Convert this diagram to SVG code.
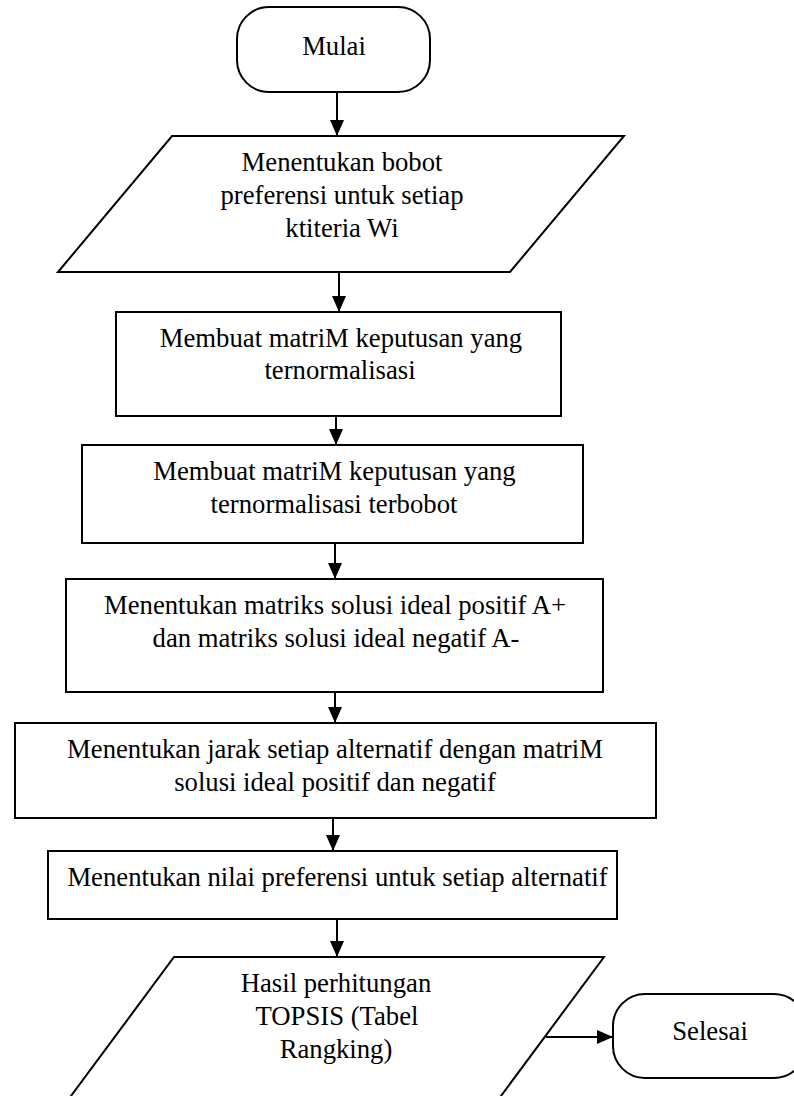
<svg xmlns="http://www.w3.org/2000/svg" width="794" height="1096" viewBox="0 0 794 1096">
<style>
.shape{fill:#fff;stroke:#000;stroke-width:2}
.t{font-family:"Liberation Serif","Times New Roman",serif;font-size:26.7px;fill:#000;text-anchor:middle}
.c{stroke:#000;stroke-width:2;fill:none;marker-end:url(#ah)}
</style>
<defs>
<marker id="ah" markerUnits="userSpaceOnUse" markerWidth="16" markerHeight="14" refX="16" refY="7" orient="auto">
<path d="M0,0 L16,7 L0,14 Z" fill="#000"/>
</marker>
</defs>
<rect width="794" height="1096" fill="#fff"/>
<g id="connectors">
<line class="c" x1="337" y1="92" x2="337" y2="136"/>
<line class="c" x1="339" y1="272" x2="339" y2="312"/>
<line class="c" x1="336" y1="416" x2="336" y2="445"/>
<line class="c" x1="335" y1="543" x2="335" y2="579"/>
<line class="c" x1="335" y1="692" x2="335" y2="723"/>
<line class="c" x1="333" y1="818" x2="333" y2="851"/>
<line class="c" x1="337" y1="919" x2="337" y2="957"/>
<line class="c" x1="546" y1="1037" x2="613" y2="1037"/>
</g>
<g id="mulai">
<rect class="shape" x="237" y="7" width="193" height="85" rx="32" ry="32"/>
<text class="t" x="334" y="55">Mulai</text>
</g>
<g id="bobot">
<polygon class="shape" points="172,136 624,136 510,272 58,272"/>
<text class="t" x="342" y="171">Menentukan bobot</text>
<text class="t" x="342" y="204">preferensi untuk setiap</text>
<text class="t" x="342" y="237">ktiteria Wi</text>
</g>
<g id="normalisasi">
<rect class="shape" x="116" y="312" width="445" height="104"/>
<text class="t" x="341" y="347">Membuat matriM keputusan yang</text>
<text class="t" x="340" y="379">ternormalisasi</text>
</g>
<g id="terbobot">
<rect class="shape" x="82" y="445" width="501" height="98"/>
<text class="t" x="334.5" y="480">Membuat matriM keputusan yang</text>
<text class="t" x="334" y="513">ternormalisasi terbobot</text>
</g>
<g id="solusi-ideal">
<rect class="shape" x="66" y="579" width="537" height="113"/>
<text class="t" x="335" y="614">Menentukan matriks solusi ideal positif A+</text>
<text class="t" x="336" y="647">dan matriks solusi ideal negatif A-</text>
</g>
<g id="jarak">
<rect class="shape" x="15" y="723" width="641" height="95"/>
<text class="t" x="335" y="758">Menentukan jarak setiap alternatif dengan matriM</text>
<text class="t" x="335" y="791">solusi ideal positif dan negatif</text>
</g>
<g id="preferensi">
<rect class="shape" x="48" y="851" width="569" height="68"/>
<text class="t" x="337.5" y="886">Menentukan nilai preferensi untuk setiap alternatif</text>
</g>
<g id="hasil">
<polygon class="shape" points="174,957 604,957 498,1100 68,1100"/>
<text class="t" x="336" y="992">Hasil perhitungan</text>
<text class="t" x="337" y="1025">TOPSIS (Tabel</text>
<text class="t" x="336" y="1058">Rangking)</text>
</g>
<g id="selesai">
<rect class="shape" x="613" y="994" width="193" height="84" rx="32" ry="32"/>
<text class="t" x="710" y="1040">Selesai</text>
</g>
</svg>
